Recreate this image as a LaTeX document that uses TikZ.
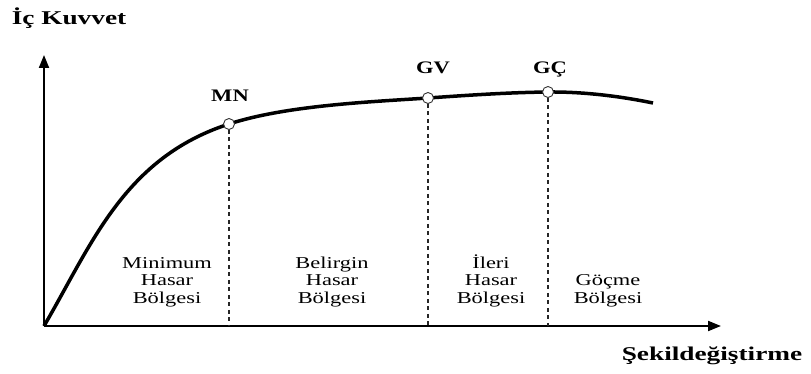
\documentclass[tikz,border=0pt]{standalone}
\usepackage{fontspec}
\setmainfont{Liberation Serif}
\newfontfamily\regionfont[FakeStretch=1.35]{Liberation Serif}
\newfontfamily\pointfont[FakeStretch=1.28]{Liberation Serif}
\newfontfamily\axisfont[FakeStretch=1.4]{Liberation Serif}
\usetikzlibrary{arrows.meta}
\tikzset{
  axis/.style={line width=2pt,-{Triangle[length=13pt,width=10pt]}},
  curve/.style={line width=3.5pt},
  state/.style={circle,draw=black!80,fill=white,inner sep=0pt,minimum size=11pt,line width=0.9pt},
  limit/.style={line width=1.2pt,black!85,dash pattern=on 4pt off 3.5pt},
  region/.style={align=center,anchor=base,font=\regionfont\fontsize{16.6}{17.4}\selectfont},
  statelabel/.style={anchor=base,font=\pointfont\bfseries\fontsize{17.6}{20}\selectfont},
  axislabel/.style={anchor=base,font=\axisfont\bfseries\fontsize{19.5}{22}\selectfont}
}
\begin{document}
\begin{tikzpicture}[x=1pt,y=-1pt]
\useasboundingbox (0,0) rectangle (811,374);
% axes
\coordinate (O) at (44,326);
\coordinate (ytop) at (44,55);
\coordinate (xend) at (721,326);
\draw[axis] (O) -- (ytop);
\draw[axis] (O) -- (xend);
\node[axislabel] (force) at (69,25) {İç Kuvvet};
\node[axislabel] (strain) at (712,360) {Şekildeğiştirme};
% capacity curve
\coordinate (MNp) at (229,124);
\coordinate (GVp) at (428,98);
\coordinate (GCp) at (548,92);
\coordinate (tail) at (653,103);
\draw[curve] (O) .. controls (92,244) and (124,158) .. (MNp)
  .. controls (286,105.5) and (368,102) .. (GVp)
  .. controls (468,95.2) and (508,92.5) .. (GCp)
  .. controls (583,91.7) and (619,96) .. (tail);
% performance levels
\node[state] (MN) at (MNp) {};
\node[state] (GV) at (GVp) {};
\node[state] (GC) at (GCp) {};
\draw[limit] (MN) -- (MN |- O);
\draw[limit] (GV) -- (GV |- O);
\draw[limit] (GC) -- (GC |- O);
\node[statelabel] (MNlab) at (230,102) {MN};
\node[statelabel] (GVlab) at (433,74) {GV};
\node[statelabel] (GClab) at (550,74) {GÇ};
% damage regions
\node[region] (min) at (167,303) {Minimum\\Hasar\\Bölgesi};
\node[region] (bel) at (332,303) {Belirgin\\Hasar\\Bölgesi};
\node[region] (ile) at (491,303) {İleri\\Hasar\\Bölgesi};
\node[region] (goc) at (608,303) {Göçme\\Bölgesi};
\end{tikzpicture}
\end{document}
